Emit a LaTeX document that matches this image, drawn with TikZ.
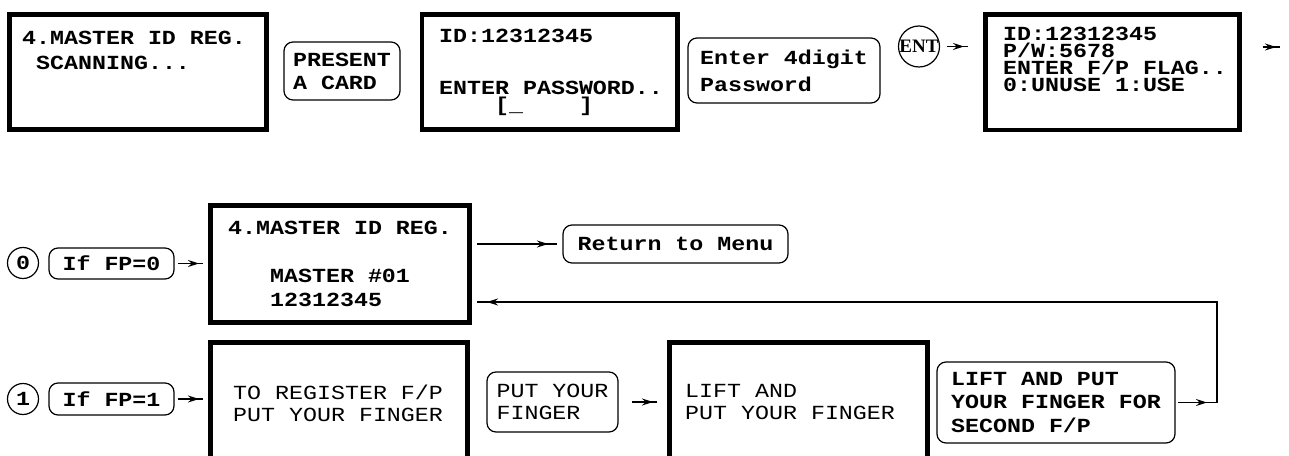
\documentclass[tikz,border=0pt]{standalone}
\usepackage{fontspec}
\newfontfamily\lcd[FakeStretch=1.165]{Liberation Mono}
\newfontfamily\entfont{Liberation Serif}
\usetikzlibrary{arrows.meta,decorations.markings,calc}
\tikzset{
  ftip/.tip={Stealth[length=11bp,width=7bp]},
  lcdbox/.style={draw, line width=4.5bp, inner sep=0, outer sep=0},
  txt/.style={font=\lcd\fontsize{20bp}{16bp}\selectfont\bfseries, inner sep=0, anchor=base west, align=left},
  txtr/.style={txt, font=\lcd\fontsize{20bp}{16bp}\selectfont\mdseries},
  rbox/.style={draw, rounded corners=9bp, line width=1.2bp, inner sep=0, outer sep=0, align=left,
    font=\lcd\fontsize{20bp}{16bp}\selectfont\bfseries},
  circ/.style={circle, draw, line width=1.2bp, minimum size=31bp, inner sep=0, outer sep=0,
    font=\lcd\fontsize{20bp}{16bp}\selectfont\bfseries},
  entc/.style={circle, draw, line width=1.2bp, minimum size=39bp, inner sep=0, outer sep=0,
    font=\entfont\bfseries\fontsize{19bp}{19bp}\selectfont},
  conn/.style={draw, line width=1.4bp},
  arr/.style={conn, postaction={decorate},
    decoration={markings, mark=at position #1 with {\arrow{ftip}}}},
  arr/.default=-4bp
}
\begin{document}
\begin{tikzpicture}[x=1bp,y=-1bp]
\useasboundingbox (0,0) rectangle (1289,456);
\clip (0,0) rectangle (1289,456);
% ---------- row 1
\node[lcdbox, minimum width=257bp, minimum height=115bp] (b1) at (138,72) {};
\node[txt] (t1) at (22,70) {4.MASTER ID REG.\\[9bp]\phantom{X}SCANNING...};
\node[rbox, minimum width=116bp, minimum height=58bp] (card) at (342,71) {PRESENT\\[7bp]A CARD};
\node[lcdbox, minimum width=255.5bp, minimum height=115bp] (b2) at (549.75,72) {};
\node[txt] (t2) at (439,112) {ID:12312345\\[36bp]ENTER PASSWORD..\\[1bp]\phantom{XXXX}[\_\phantom{XXXX}]};
\node[rbox, minimum width=192bp, minimum height=65bp] (pw) at (784,70.5) {Enter 4digit\\[7bp]Password};
\node[entc] (ent) at (919,46.5) {ENT};
\node[lcdbox, minimum width=254bp, minimum height=115.5bp] (b3) at (1112.5,72.25) {};
\node[txt] (t3) at (1003,92) {ID:12312345\\[1bp]P/W:5678\\[1bp]ENTER F/P FLAG..\\[1bp]0:UNUSE 1:USE};
\coordinate (out) at (1280,47);
\draw[arr] ($(ent.east)+(7.5,0)$) -- ($(ent.east -| b3.west)+(-17.5,0)$);
\draw[arr] ($(b3.east |- out)+(23.5,0)$) -- (out);
% ---------- row 2
\node[circ] (c0) at (23,263) {0};
\node[rbox, minimum width=125bp, minimum height=31bp] (if0) at (111.5,263.5) {If FP=0};
\node[lcdbox, minimum width=259bp, minimum height=117bp] (b4) at (340,264) {};
\node[txt] (t4) at (228,307) {4.MASTER ID REG.\\[32bp]\phantom{XXX}MASTER \#01\\[8bp]\phantom{XXX}12312345};
\node[rbox, minimum width=225bp, minimum height=38bp] (rm) at (675.5,244) {Return to Menu};
\draw[arr] ($(if0.east)+(4,0)$) -- ($(if0.east -| b4.west)+(-7.5,0)$);
\draw[arr=-9bp] ($(b4.east |- rm.west)+(7.5,0)$) -- ($(rm.west)+(-6,0)$);
% ---------- row 3
\node[circ] (c1) at (23,399) {1};
\node[rbox, minimum width=125bp, minimum height=32bp] (if1) at (111.5,399) {If FP=1};
\node[lcdbox, minimum width=257bp, minimum height=123bp] (b5) at (339,404) {};
\node[txtr] (t5) at (233,422) {TO REGISTER F/P\\[6bp]PUT YOUR FINGER};
\node[rbox, font=\lcd\fontsize{20bp}{16bp}\selectfont\mdseries, minimum width=131bp, minimum height=60bp] (put) at (552.5,402) {PUT YOUR\\[6bp]FINGER};
\node[lcdbox, minimum width=258bp, minimum height=123bp] (b6) at (798.5,404) {};
\node[txtr] (t6) at (685,420) {LIFT AND\\[6bp]PUT YOUR FINGER};
\node[rbox, minimum width=238bp, minimum height=81bp] (lp) at (1056,402.5) {LIFT AND PUT\\[7.5bp]YOUR FINGER FOR\\[7.5bp]SECOND F/P};
\coordinate (fbtop) at (1217,302);
\draw[arr] ($(if1.east)+(4,0)$) -- ($(if1.east -| b5.west)+(-7.5,0)$);
\draw[arr] ($(put.east)+(14,0)$) -- ($(put.east -| b6.west)+(-12.5,0)$);
\draw[conn, postaction={decorate},
  decoration={markings, mark=at position 29bp with {\arrow{ftip}}, mark=at position -10bp with {\arrow{ftip}}}]
  ($(lp.east)+(3,0)$) -| (fbtop) -- ($(b4.east |- fbtop)+(7.5,0)$);
\end{tikzpicture}
\end{document}
